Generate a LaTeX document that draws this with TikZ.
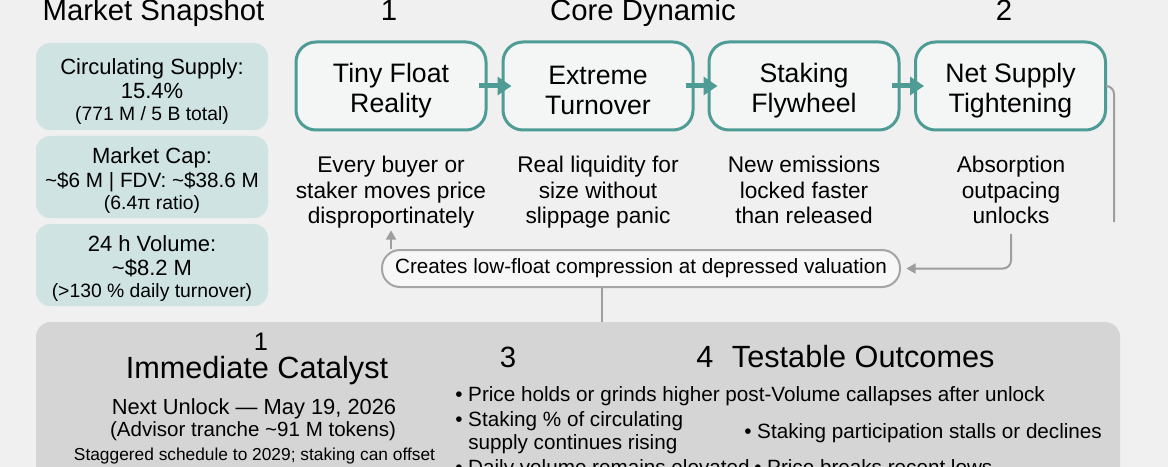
\documentclass[tikz,border=0pt]{standalone}
\usepackage{fontspec}
\setmainfont{Liberation Sans}
\usetikzlibrary{arrows.meta}
\definecolor{pagebg}{HTML}{F0F0F0}
\definecolor{snapfill}{HTML}{CFE3E3}
\definecolor{flowfill}{HTML}{F4F5F5}
\definecolor{flowteal}{HTML}{4E9C95}
\definecolor{linkgray}{HTML}{9E9E9E}
\definecolor{pillfill}{HTML}{F7F7F7}
\definecolor{pillline}{HTML}{A5A5A5}
\definecolor{panelfill}{HTML}{D5D5D5}
\begin{document}
\begin{tikzpicture}[x=0.75pt,y=-0.75pt,
    snapbox/.style={fill=snapfill,rounded corners=10.5pt,minimum width=174pt,inner sep=0pt},
    snaptext/.style={align=center,inner sep=0pt,font=\fontsize{16.5}{18}\selectfont},
    flowbox/.style={draw=flowteal,line width=2.25pt,fill=flowfill,rounded corners=15pt,minimum width=142.5pt,minimum height=66pt,inner sep=0pt},
    flowtext/.style={align=center,inner sep=0pt,font=\fontsize{20}{22.5}\selectfont},
    flowdesc/.style={align=center,inner sep=0pt,anchor=north,font=\fontsize{17}{19}\selectfont},
    flowlink/.style={draw=flowteal,line width=3.75pt,-{Triangle[length=10.5pt,width=13.5pt]}},
    backlink/.style={draw=linkgray,line width=1.5pt,rounded corners=6pt},
    backtip/.style={-{Triangle[length=7pt,width=7.5pt]}},
    head/.style={anchor=base,inner sep=0pt,font=\fontsize{22}{26}\selectfont},
    catline/.style={anchor=base,inner sep=0pt},
    outcome/.style={anchor=base west,inner sep=0pt,font=\fontsize{15.5}{18}\selectfont}]

\fill[pagebg] (0,0) rectangle (1168,467);
\useasboundingbox (0,0) rectangle (1168,467);

\node[head] (snaphead) at (153.5,21) {Market Snapshot};
\node[head] (corenum)  at (389,21)   {1};
\node[head] (corehead) at (643,21)   {Core Dynamic};
\node[head] (tightnum) at (1004,21)  {2};

\node[snapbox,minimum height=65.25pt] (circbox) at (152,86.5) {};
\node[snaptext] (circ) at ([yshift=-3.5pt]circbox.center) {Circulating Supply:\\15.4\%\\[-1.5pt]{\fontsize{14.5}{17}\selectfont(771 M / 5 B total)}};
\node[snapbox,minimum height=61.5pt] (capbox) at (152,177) {};
\node[snaptext] (cap) at ([yshift=-3pt]capbox.center) {Market Cap:\\{\fontsize{15.5}{17}\selectfont\textasciitilde\$6 M | FDV: \textasciitilde\$38.6 M}\\[-1.5pt]{\fontsize{14.5}{17}\selectfont(6.4π ratio)}};
\node[snapbox,minimum height=61.5pt] (volbox) at (152,265) {};
\node[snaptext] (vol) at ([yshift=-3pt]volbox.center) {24 h Volume:\\\textasciitilde\$8.2 M\\[-1.5pt]{\fontsize{14.5}{17}\selectfont(>130 \% daily turnover)}};

\node[flowbox] (tiny)  at (391,86)    {};
\node[flowbox] (turn)  at (598,86)    {};
\node[flowbox] (fly)   at (804,86)    {};
\node[flowbox] (tight) at (1010.5,86) {};
\node[flowtext] (tinytxt)  at ([yshift=-3.5pt]tiny.center)  {Tiny Float\\Reality};
\node[flowtext] (turntxt)  at ([yshift=-3.5pt]turn.center)  {Extreme\\Turnover};
\node[flowtext] (flytxt)   at ([yshift=-3.5pt]fly.center)   {Staking\\Flywheel};
\node[flowtext] (tighttxt) at ([yshift=-3.5pt]tight.center) {Net Supply\\Tightening};

\draw[flowlink] ([xshift=-6.75pt]tiny.east) -- ([xshift=7.5pt]turn.west);
\draw[flowlink] ([xshift=-6.75pt]turn.east) -- ([xshift=7.5pt]fly.west);
\draw[flowlink] ([xshift=-6.75pt]fly.east)  -- ([xshift=7.5pt]tight.west);

\node[flowdesc] (tinydesc)  at (391,156)  {Every buyer or\\staker moves price\\disproportinately};
\node[flowdesc] (turndesc)  at (598,156)  {Real liquidity for\\size without\\slippage panic};
\node[flowdesc] (flydesc)   at (804,156)  {New emissions\\locked faster\\than released};
\node[flowdesc] (tightdesc) at (1011,156) {Absorption\\outpacing\\unlocks};

\node[draw=pillline,line width=1.5pt,fill=pillfill,rounded corners=13.5pt,minimum width=388.5pt,minimum height=27.75pt,inner sep=0pt,font=\fontsize{15.5}{18}\selectfont] (pill) at (641,268.5) {Creates low-float compression at depressed valuation};

\coordinate (loopend) at (1114,222);
\draw[backlink] (tight.east) -| (loopend);
\draw[backlink,backtip,shorten >=4pt] ([yshift=-7.5pt]tightdesc.south) |- (pill.east);
\draw[backlink,backtip] (pill.north -| tinydesc.south) -- ([yshift=-1.5pt]tinydesc.south);

\fill[panelfill,rounded corners=11.25pt] (36,322) rectangle (1120,540);
\coordinate (drop) at (602,322);
\draw[backlink] (drop |- pill.south) -- (drop);

\node[catline,font=\fontsize{19}{22}\selectfont]   (catnum)  at (261,350)   {1};
\node[catline,font=\fontsize{23}{27}\selectfont]   (cathead) at (257,378)   {Immediate Catalyst};
\node[catline,font=\fontsize{16.4}{20}\selectfont] (unlock)  at (254,414)   {Next Unlock — May 19, 2026};
\node[catline,font=\fontsize{15.4}{18}\selectfont] (tranche) at (253,436)   {(Advisor tranche \textasciitilde91 M tokens)};
\node[catline,font=\fontsize{13}{16}\selectfont]   (sched)   at (254.5,460) {Staggered schedule to 2029; staking can offset};

\node[head] (outnum) at (508,367) {3};
\node[head,anchor=base west,font=\fontsize{23}{27}\selectfont] (outhead) at (696,367) {4\hspace{14pt}Testable Outcomes};

\node[outcome] (passa) at (455,401) {• Price holds or grinds higher post-Volume callapses after unlock};
\node[outcome] (passb) at (455,426) {• Staking \% of circulating};
\node[outcome] (passc) at (468,449) {supply continues rising};
\node[outcome] (faila) at (744,438) {• Staking participation stalls or declines};
\node[outcome] (passd) at (455,474) {• Daily volume remains elevated};
\node[outcome] (failb) at (754,474) {• Price breaks recent lows};
\end{tikzpicture}
\end{document}
